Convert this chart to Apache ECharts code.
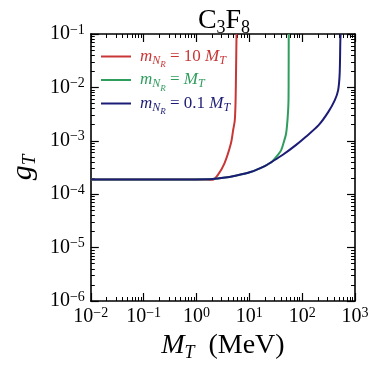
<!DOCTYPE html>
<html>
<head>
<meta charset="utf-8">
<script src="https://cdn.jsdelivr.net/npm/echarts@6/dist/echarts.min.js"></script>
<style>
html,body{margin:0;padding:0;background:#fff;}
#main{width:374px;height:368px;}
</style>
</head>
<body>
<div id="main"></div>
<script>
// ---- data (x: M_T in MeV, y: g_T) ----
var redX   = [0.01, 1.5, 2.02, 2.51, 3.37, 4.48, 4.94, 5.31, 5.5, 5.61, 5.73];
var redY   = [1.89e-4, 1.89e-4, 1.86e-4, 2.26e-4, 3.75e-4, 8.9e-4, 1.58e-3, 2.43e-3, 5.78e-3, 0.0211, 0.1];
var greenX = [0.01, 1, 2, 3.5, 5.15, 10.5, 20, 26.2, 30, 35, 40.1, 45, 49.7, 53.3, 55.2, 55.5, 55.7];
var greenY = [1.89e-4, 1.89e-4, 1.92e-4, 2.05e-4, 2.2e-4, 2.6e-4, 3.4e-4, 4.0e-4, 4.6e-4, 5.5e-4, 6.7e-4, 9.5e-4, 1.37e-3, 2.8e-3, 5.8e-3, 0.02, 0.1];
var blueX  = [0.01, 1, 2, 3.5, 5.15, 10.5, 20, 26.2, 43.1, 75.9, 116, 205, 313, 415, 480, 513, 528, 535];
var blueY  = [1.89e-4, 1.89e-4, 1.92e-4, 2.05e-4, 2.2e-4, 2.6e-4, 3.4e-4, 4.0e-4, 5.48e-4, 8.3e-4, 1.18e-3, 1.96e-3, 3.48e-3, 5.78e-3, 8.9e-3, 0.0183, 0.077, 0.1];
var xMajorExp = [-2, -1, 0, 1, 2, 3];
var yMajorExp = [-6, -5, -4, -3, -2, -1];
var minorMult = [2, 3, 4, 5, 6, 7, 8, 9];

function zip(xs, ys) { return xs.map(function (x, i) { return [x, ys[i]]; }); }
function minorLogs(exps) {
  var out = [];
  for (var i = 0; i < exps.length - 1; i++) {
    minorMult.forEach(function (k) { out.push(exps[i] + Math.log10(k)); });
  }
  return out;
}
function expLabel(v) {
  var e = Math.round(Math.log10(v));
  return '{b|10}{s|' + (e < 0 ? '\u2212' + (-e) : e) + '}';
}
var FONT = '"Liberation Serif", "DejaVu Serif", serif';
var labelRich = {
  b: { fontFamily: FONT, fontSize: 20, lineHeight: 22, color: '#000', verticalAlign: 'middle' },
  s: { fontFamily: FONT, fontSize: 14, lineHeight: 14, color: '#000', verticalAlign: 'top' }
};
var COL = { red: '#c83636', green: '#2f9d5e', blue: '#1c1c76' };

function legendRich(color) {
  return {
    i:  { fontFamily: FONT, fontStyle: 'italic', fontSize: 17, color: color, lineHeight: 20, verticalAlign: 'middle' },
    sub:{ fontFamily: FONT, fontStyle: 'italic', fontSize: 12, color: color, lineHeight: 20, verticalAlign: 'bottom' },
    ss: { fontFamily: FONT, fontStyle: 'italic', fontSize: 9, color: color, lineHeight: 20, verticalAlign: 'bottom', padding: [0,0,-3,0] },
    r:  { fontFamily: FONT, fontSize: 17, color: color, lineHeight: 20, verticalAlign: 'middle' }
  };
}

var axisLineStyle = { show: true, onZero: false, lineStyle: { color: '#000', width: 1.6 } };
function majorX(pos, labels) {
  return {
    type: 'log', logBase: 10, min: 0.01, max: 1000, position: pos, gridIndex: 0,
    axisLine: axisLineStyle,
    axisTick: { show: true, inside: true, length: 8, lineStyle: { color: '#000', width: 1.2 } },
    axisLabel: labels ? { show: true, margin: 5, formatter: expLabel, rich: labelRich, showMinLabel: true, showMaxLabel: true } : { show: false },
    splitLine: { show: false }, minorTick: { show: false }
  };
}
function majorY(pos, labels) {
  return {
    type: 'log', logBase: 10, min: 1e-6, max: 0.1, position: pos, gridIndex: 0,
    axisLine: axisLineStyle,
    axisTick: { show: true, inside: true, length: 8, lineStyle: { color: '#000', width: 1.2 } },
    axisLabel: labels ? { show: true, margin: 6, formatter: expLabel, rich: labelRich, showMinLabel: true, showMaxLabel: true } : { show: false },
    splitLine: { show: false }, minorTick: { show: false }
  };
}
function minorAxis(pos, exps) {
  return {
    type: 'value', min: exps[0], max: exps[exps.length - 1], position: pos, gridIndex: 0,
    axisLine: { show: false, onZero: false },
    axisTick: { show: true, inside: true, length: 4, customValues: minorLogs(exps), lineStyle: { color: '#000', width: 1 } },
    axisLabel: { show: false }, splitLine: { show: false }
  };
}

var xAxes = [majorX('bottom', true), majorX('top', false), minorAxis('bottom', xMajorExp), minorAxis('top', xMajorExp)];
xAxes[0].name = '{i|M}{sub|T}{r|  (MeV)}';
xAxes[0].nameLocation = 'middle';
xAxes[0].nameGap = 29;
xAxes[0].nameTextStyle = { rich: {
  i: { fontFamily: FONT, fontStyle: 'italic', fontSize: 28, color: '#000', lineHeight: 32, verticalAlign: 'middle' },
  sub: { fontFamily: FONT, fontStyle: 'italic', fontSize: 18, color: '#000', lineHeight: 32, verticalAlign: 'bottom' },
  r: { fontFamily: FONT, fontSize: 28, color: '#000', lineHeight: 32, verticalAlign: 'middle' }
}};
var yAxes = [majorY('left', true), majorY('right', false), minorAxis('left', yMajorExp), minorAxis('right', yMajorExp)];
yAxes[0].name = '{i|g}{sub|T}';
yAxes[0].nameLocation = 'middle';
yAxes[0].nameRotate = 90;
yAxes[0].nameGap = 48;
yAxes[0].nameTextStyle = { rich: {
  i: { fontFamily: FONT, fontStyle: 'italic', fontSize: 30, color: '#000', lineHeight: 32, verticalAlign: 'middle' },
  sub: { fontFamily: FONT, fontStyle: 'italic', fontSize: 19, color: '#000', lineHeight: 32, verticalAlign: 'bottom' }
}};

var names = ['r10', 'r1', 'r01'];
var legendText = {
  r10: '{i|m}{sub|N}{ss|R}{r| = 10 }{i|M}{sub|T}',
  r1:  '{i|m}{sub|N}{ss|R}{r| = }{i|M}{sub|T}',
  r01: '{i|m}{sub|N}{ss|R}{r| = 0.1 }{i|M}{sub|T}'
};
var legendCol = { r10: COL.red, r1: COL.green, r01: COL.blue };

function lineSeries(name, xs, ys, color) {
  return {
    name: name, type: 'line', xAxisIndex: 0, yAxisIndex: 0,
    data: zip(xs, ys), showSymbol: false, symbol: 'none', smooth: 0.3,
    lineStyle: { color: color, width: 2 }, itemStyle: { color: color },
    clip: true, animation: false
  };
}

var chart = echarts.init(document.getElementById('main'), null, { renderer: 'canvas' });
chart.setOption({
  animation: false,
  backgroundColor: '#fff',
  title: {
    text: '{b|C}{sub|3}{b|F}{sub|8}', left: 219, top: 0, textAlign: 'center',
    textStyle: { fontWeight: 'normal', rich: {
      b: { fontFamily: FONT, fontSize: 28, fontWeight: 'normal', color: '#000', lineHeight: 32, verticalAlign: 'middle' },
      sub: { fontFamily: FONT, fontSize: 18, fontWeight: 'normal', color: '#000', lineHeight: 32, verticalAlign: 'bottom' }
    }}
  },
  grid: { left: 83, right: 19, top: 34, bottom: 67, containLabel: false },
  xAxis: xAxes,
  yAxis: yAxes,
  legend: {
    orient: 'vertical', left: 96, top: 43, itemWidth: 30, itemHeight: 2, itemGap: 2,
    icon: 'rect', selectedMode: false,
    data: names.map(function (n) {
      return { name: n, textStyle: { rich: legendRich(legendCol[n]), padding: [0, 0, 0, 4] } };
    }),
    formatter: function (n) { return legendText[n]; }
  },
  series: [
    lineSeries('r10', redX, redY, COL.red),
    lineSeries('r1', greenX, greenY, COL.green),
    lineSeries('r01', blueX, blueY, COL.blue)
  ]
});
</script>
</body>
</html>
